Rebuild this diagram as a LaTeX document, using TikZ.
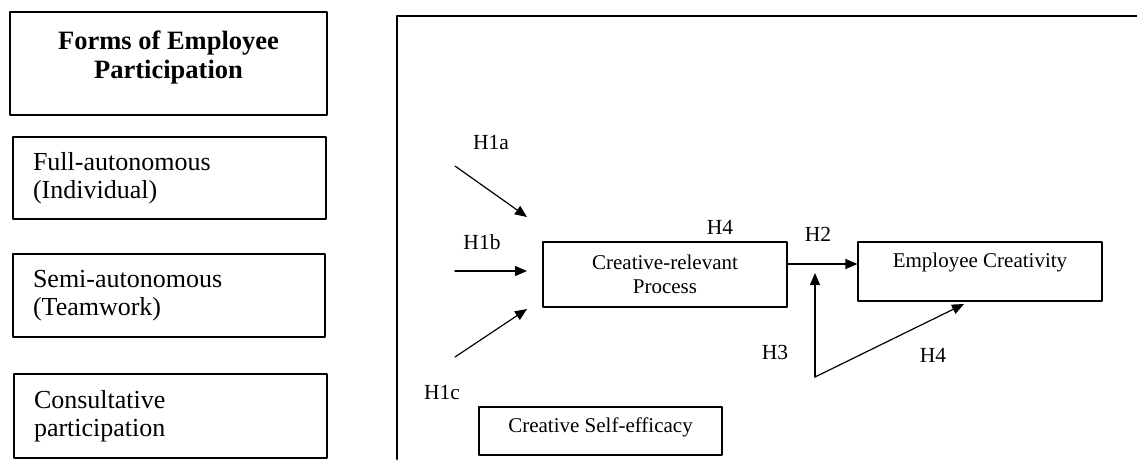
\documentclass[tikz,border=0pt]{standalone}
\usepackage{fontspec}
\setmainfont{Liberation Serif}
\usetikzlibrary{arrows.meta}

\begin{document}
\begin{tikzpicture}[line cap=round,line join=round,x=1pt,y=-1pt,
  formbox/.style={draw,line width=1.3pt,align=left,inner xsep=20pt,font=\fontsize{26}{28.5}\selectfont},
  modelbox/.style={draw,line width=1.2pt,align=center,font=\fontsize{21}{24}\selectfont},
  hyp/.style={font=\fontsize{21.5}{22}\selectfont},
  arr/.style={line width=1.2pt,-{Triangle[length=12pt,width=10pt]}}]
	\useasboundingbox (0,0) rectangle (1137,459);
	% forms of participation
	\node[draw,line width=1.3pt,minimum width=317pt,minimum height=103pt] (forms) at (168.5,63.5) {};
	\node[align=center,font=\bfseries\fontsize{26.5}{29}\selectfont] (formstext) at ([yshift=6.5pt]forms.center) {Forms of Employee\\Participation};
	\node[formbox,text width=273pt,minimum height=82pt] (full) at (169.5,178) {Full-autonomous\\(Individual)};
	\node[formbox,text width=272pt,minimum height=83pt] (semi) at (169,295.5) {Semi-autonomous\\(Teamwork)};
	\node[formbox,text width=273pt,minimum height=84pt] (consult) at (170.5,416) {Consultative\\participation};
	% model frame
	\draw [line width=2pt] (397,459) -- (397,16) -- (1137,16);
	\node[modelbox,minimum width=244pt,minimum height=65pt] (crp) at (665,274.5) {Creative-relevant\\Process};
	\node[modelbox,minimum width=244pt,minimum height=59pt,text depth=22pt] (ec) at (980,271.5) {Employee Creativity};
	\node[modelbox,minimum width=243pt,minimum height=48pt,text depth=12pt] (cse) at (600.5,431) {Creative Self-efficacy};
	% hypotheses
	\node[hyp] (h1a) at (491,143) {H1a};
	\node[hyp] (h1b) at (482,242) {H1b};
	\node[hyp] (h1c) at (442,392) {H1c};
	\node[hyp] (h4a) at (720,227) {H4};
	\node[hyp] (h2) at (818,234) {H2};
	\node[hyp] (h3) at (775,352) {H3};
	\node[hyp] (h4b) at (933,355) {H4};
	\coordinate (a1) at (455,166); \coordinate (t1) at (527,217);
	\coordinate (a2) at (455,271); \coordinate (t2) at (527,271);
	\coordinate (a3) at (455,357); \coordinate (t3) at (527,309);
	\coordinate (mod) at (815,377);
	\coordinate (t5) at (815,273); \coordinate (t6) at (964,304);
	\coordinate (h2s) at ([yshift=10.5pt]crp.east);
	\draw[arr] (a1) -- (t1);
	\draw[arr] (a2) -- (t2);
	\draw[arr] (a3) -- (t3);
	\draw[arr] (h2s) -- (h2s -| ec.west);
	\draw[arr] (mod) -- (t5);
	\draw[arr] (mod) -- (t6);
\end{tikzpicture}
\end{document}
